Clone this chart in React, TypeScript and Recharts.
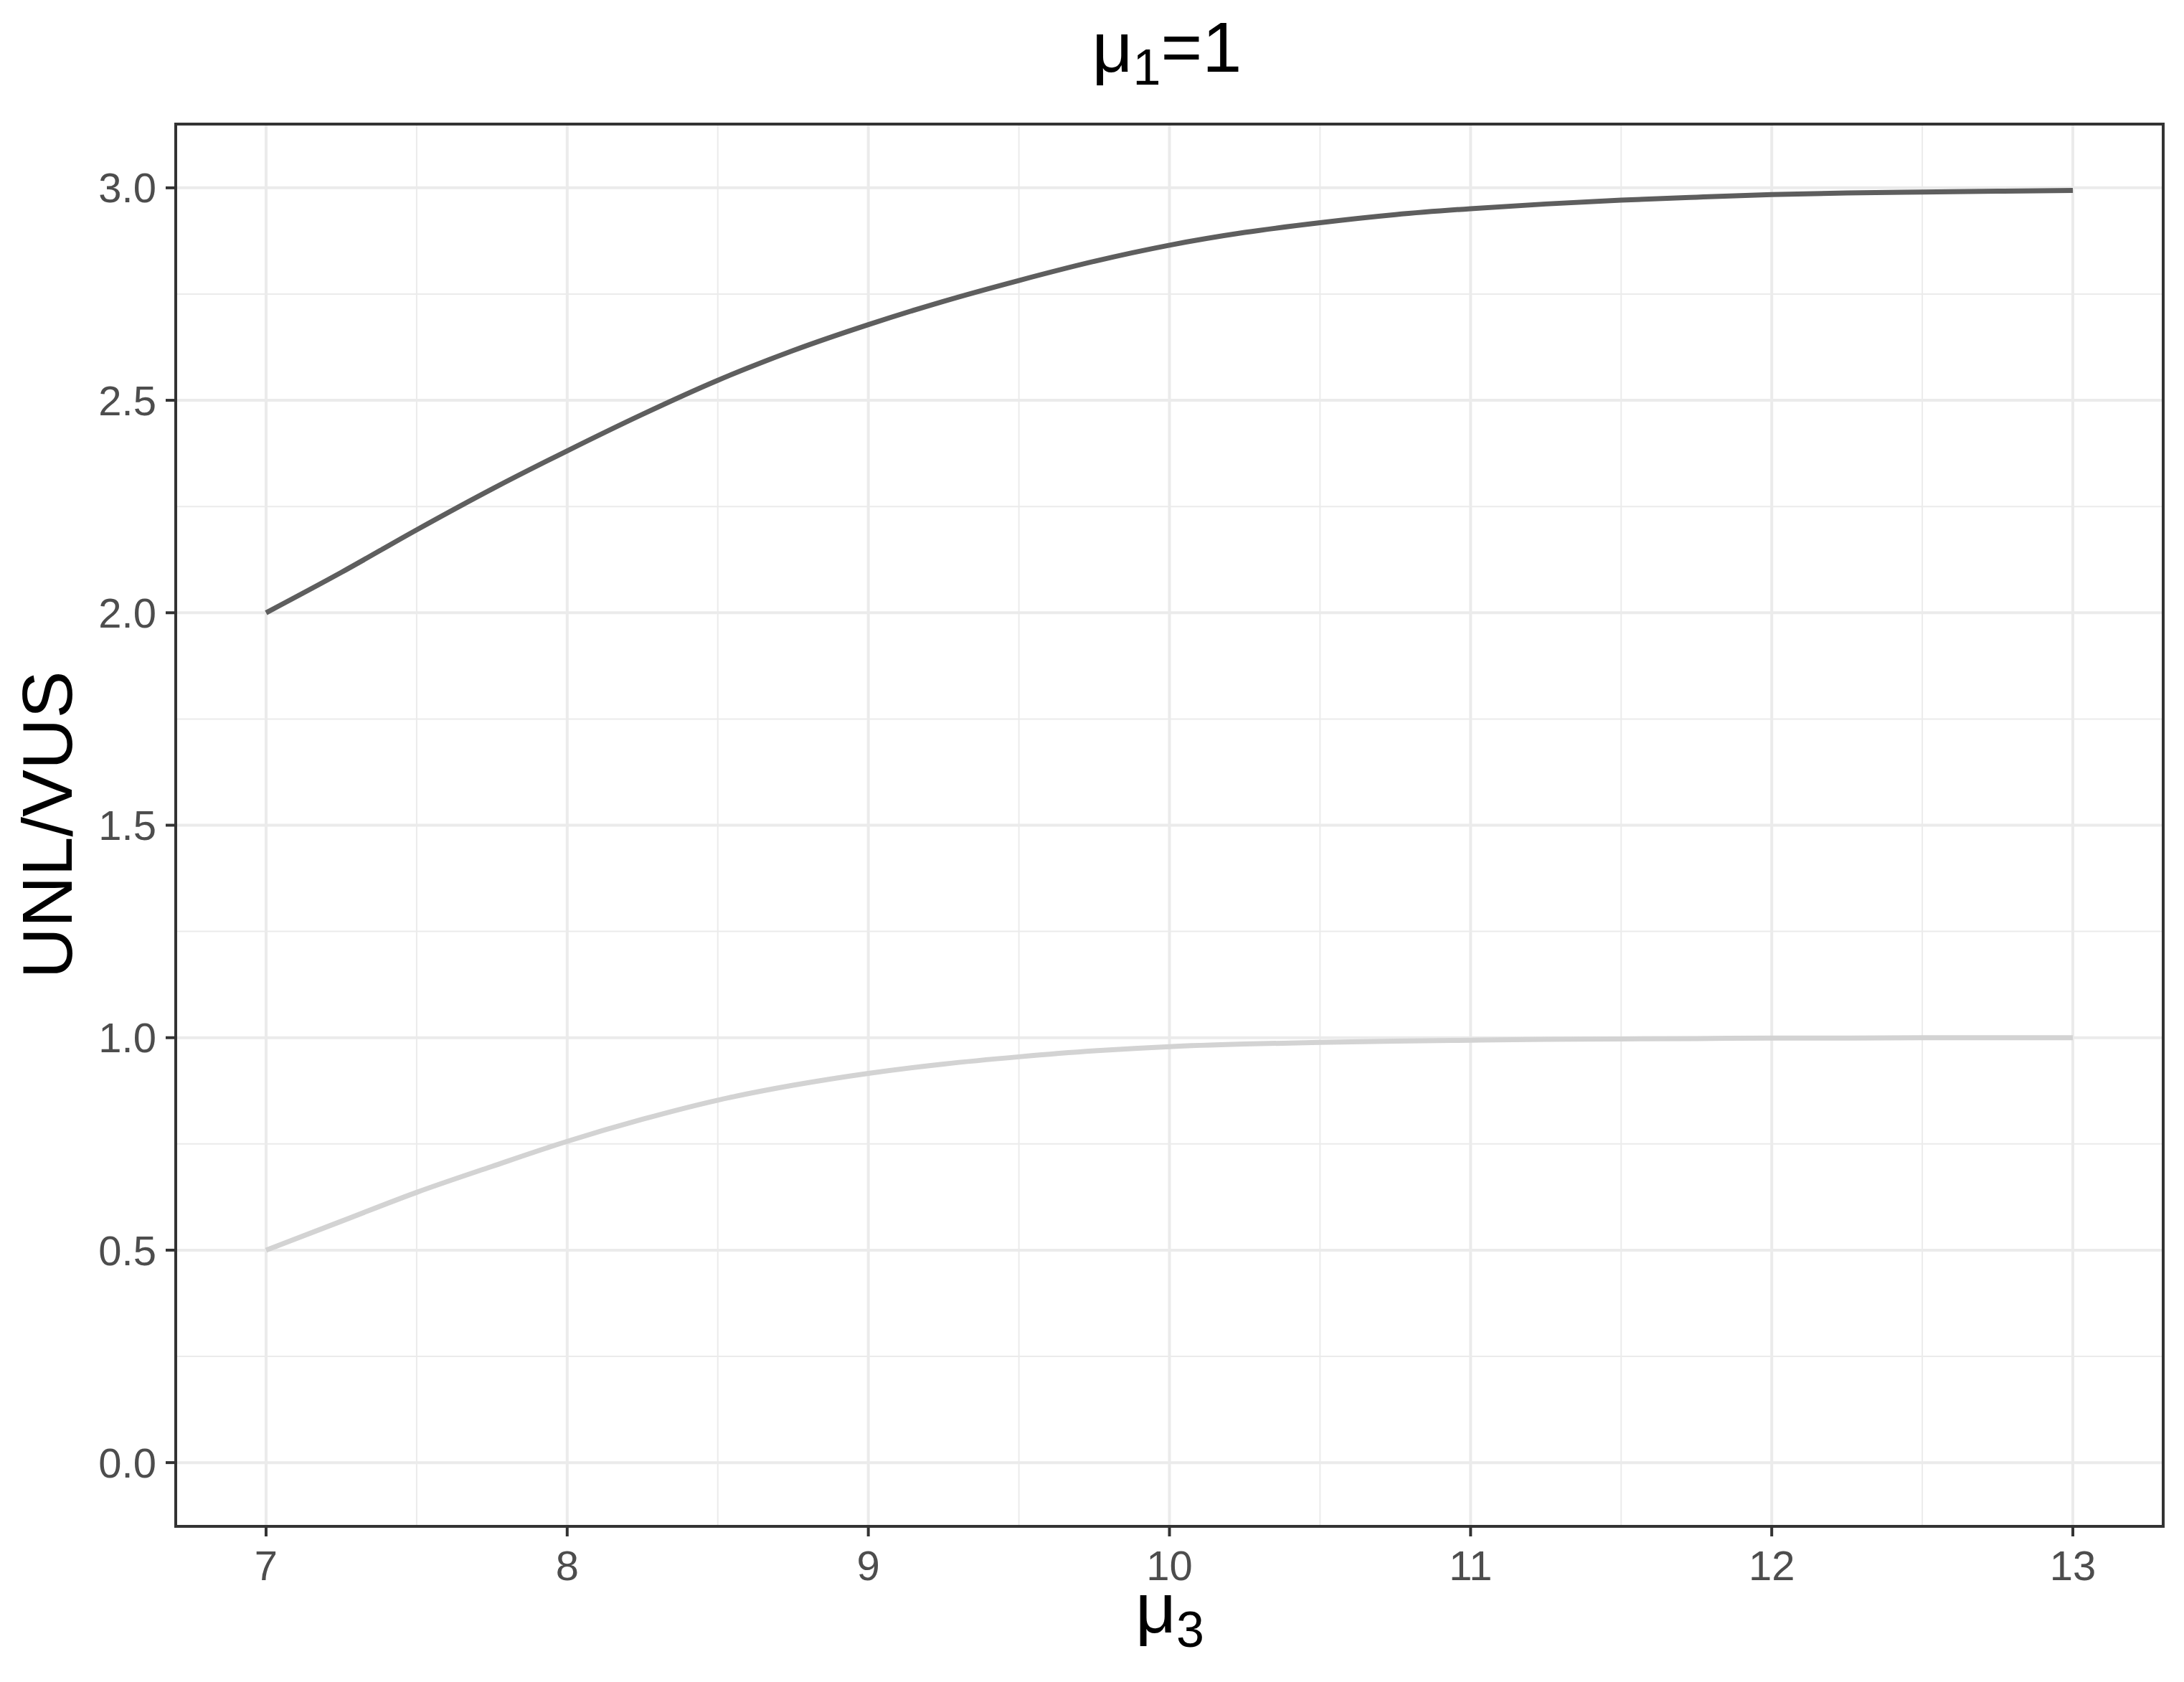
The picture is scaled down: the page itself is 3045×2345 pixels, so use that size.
import { LineChart, Line, XAxis, YAxis, CartesianGrid, ReferenceLine, ReferenceArea } from 'recharts';

const muValues = [7, 7.25, 7.5, 7.75, 8, 8.25, 8.5, 8.75, 9, 9.25, 9.5, 9.75, 10, 10.25, 10.5, 10.75, 11, 11.25, 11.5, 11.75, 12, 12.25, 12.5, 12.75, 13];
const upperRatio = [2.0, 2.095, 2.195, 2.291, 2.381, 2.467, 2.547, 2.617, 2.678, 2.733, 2.782, 2.827, 2.865, 2.895, 2.918, 2.937, 2.951, 2.962, 2.971, 2.978, 2.984, 2.988, 2.99, 2.992, 2.994];
const lowerRatio = [0.5, 0.568, 0.636, 0.697, 0.756, 0.808, 0.853, 0.888, 0.916, 0.938, 0.955, 0.969, 0.979, 0.985, 0.989, 0.992, 0.994, 0.996, 0.997, 0.998, 0.999, 0.999, 1.0, 1.0, 1.0];

const xTicks = [7, 8, 9, 10, 11, 12, 13];
const yTicks = [0, 0.5, 1, 1.5, 2, 2.5, 3];
const xMinor = [7.5, 8.5, 9.5, 10.5, 11.5, 12.5];
const yMinor = [0.25, 0.75, 1.25, 1.75, 2.25, 2.75];

const data = muValues.map((mu, i) => ({ mu, upper: upperRatio[i], lower: lowerRatio[i] }));

const W = 3045;
const H = 2345;
const font = '"Liberation Sans", Arial, sans-serif';

const App = () => {
  return (
    <div style={{ position: 'absolute', left: 0, top: 0, width: W, height: H, background: '#fff' }}>
      <LineChart
        width={W}
        height={H}
        data={data}
        margin={{ top: 173, right: 29, left: 0, bottom: 0 }}
      >
        {xMinor.map((v) => (
          <ReferenceLine key={'xm' + v} x={v} stroke="#EBEBEB" strokeWidth={2} zIndex={-60} />
        ))}
        {yMinor.map((v) => (
          <ReferenceLine key={'ym' + v} y={v} stroke="#EBEBEB" strokeWidth={2} zIndex={-60} />
        ))}
        <CartesianGrid stroke="#EBEBEB" strokeWidth={4} />
        <XAxis
          dataKey="mu"
          type="number"
          domain={[6.7, 13.3]}
          ticks={xTicks}
          allowDataOverflow
          height={217}
          axisLine={false}
          tickSize={14}
          tickMargin={20}
          tickLine={{ stroke: '#333333', strokeWidth: 4 }}
          tick={{ fill: '#4D4D4D', fontSize: 58, fontFamily: font }}
        />
        <YAxis
          type="number"
          domain={[-0.15, 3.15]}
          ticks={yTicks}
          allowDataOverflow
          width={245}
          axisLine={false}
          tickSize={14}
          tickMargin={13}
          tickLine={{ stroke: '#333333', strokeWidth: 4 }}
          tickFormatter={(v: number) => v.toFixed(1)}
          tick={{ fill: '#4D4D4D', fontSize: 58, fontFamily: font }}
        />
        <Line type="monotone" dataKey="lower" stroke="#D3D3D3" strokeWidth={7} dot={false} isAnimationActive={false} />
        <Line type="monotone" dataKey="upper" stroke="#5E5E5E" strokeWidth={7} dot={false} isAnimationActive={false} />
        <ReferenceArea x1={6.7} x2={13.3} y1={-0.15} y2={3.15} fill="none" fillOpacity={0} stroke="#333333" strokeWidth={4} ifOverflow="visible" />
      </LineChart>
      <svg width={W} height={H} style={{ position: 'absolute', left: 0, top: 0, pointerEvents: 'none' }}>
        <text x={1627} y={100} textAnchor="middle" fontFamily={font} fontSize={99} fill="#000">
          μ<tspan fontSize={70} dy={18}>1</tspan><tspan dy={-18}>=1</tspan>
        </text>
        <text x={1631} y={2276} textAnchor="middle" fontFamily={font} fontSize={99} fill="#000">
          μ<tspan fontSize={70} dy={20}>3</tspan>
        </text>
        <text x={100} y={1150} textAnchor="middle" fontFamily={font} fontSize={99} fill="#000" transform="rotate(-90 100 1150)">
          UNL/VUS
        </text>
      </svg>
    </div>
  );
};

export default App;
